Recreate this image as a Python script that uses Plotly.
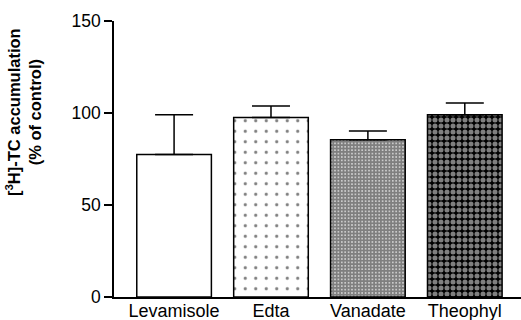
import plotly.graph_objects as go

categories = ["Levamisole", "Edta", "Vanadate", "Theophyl"]
values = [77.5, 97.5, 85.5, 99.0]
errors_up = [21.5, 6.3, 4.7, 6.5]
y_ticks = [0, 50, 100, 150]

patterns = [
    dict(shape="", bgcolor="white"),
    dict(shape=".", fgcolor="black", bgcolor="white", size=10.5, solidity=0.07, fillmode="overlay"),
    dict(shape="+", fgcolor="black", bgcolor="white", size=3.4, solidity=0.85, fillmode="overlay"),
    dict(shape=".", fgcolor="white", bgcolor="black", size=6, solidity=0.55, fillmode="overlay"),
]

fig = go.Figure()
for i, (c, v, e) in enumerate(zip(categories, values, errors_up)):
    fig.add_trace(go.Bar(
        x=[c], y=[v],
        width=0.77,
        marker=dict(color="white", line=dict(color="black", width=1.5), pattern=patterns[i]),
        error_y=dict(type="data", array=[e], arrayminus=[0], symmetric=False,
                     color="black", thickness=1.5, width=19),
        showlegend=False,
    ))

font_family = "Liberation Sans, Arial, Helvetica, sans-serif"
fig.update_layout(
    width=521, height=320,
    margin=dict(l=114, r=0, t=21, b=23, autoexpand=False),
    paper_bgcolor="white", plot_bgcolor="white",
    font=dict(family=font_family, color="black", size=16),
    xaxis=dict(type="category", range=[-0.62, 3.58], showline=True, linecolor="black",
               linewidth=1.5, ticks="", showgrid=False, zeroline=False, automargin=False,
               tickfont=dict(size=18), ticklabelstandoff=-3),
    yaxis=dict(range=[0, 150], tickvals=y_ticks, showline=True, linecolor="black",
               linewidth=1.5, ticks="outside", ticklen=8, tickwidth=1.5, automargin=False,
               tickcolor="black", showgrid=False, zeroline=False,
               tickfont=dict(size=17.5)),
    annotations=[dict(
        text="<b>[<sup>3</sup>H]-TC accumulation<br>(% of control)</b>",
        xref="paper", yref="paper", x=-0.2236, y=0.67,
        xanchor="center", yanchor="middle", textangle=-90, showarrow=False,
        font=dict(size=16.5, family=font_family, color="black"),
    )],
    bargap=0.23,
)

fig.write_html("out.html")
